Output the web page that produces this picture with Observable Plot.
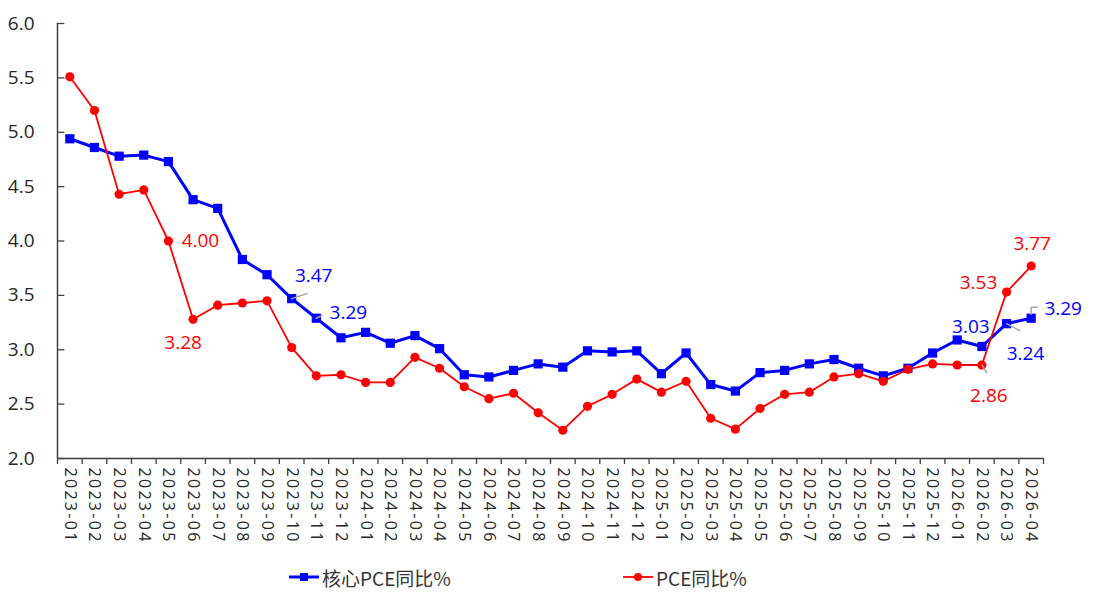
<!DOCTYPE html>
<html>
<head>
<meta charset="utf-8">
<script src="https://cdn.jsdelivr.net/npm/d3@7"></script>
<script src="https://cdn.jsdelivr.net/npm/@observablehq/plot@0.6"></script>
<style>
  html, body { margin: 0; padding: 0; background: #fff; }
  #wrap { position: relative; width: 1107px; height: 607px; overflow: hidden; font-family: "Open Sans", "Noto Sans CJK SC", sans-serif; }
  #legend { position: absolute; left: 0; top: 564px; width: 1107px; height: 26px; font-family: "Noto Sans CJK SC", "Open Sans", sans-serif; font-size: 19px; color: #333; }
  .item { position: absolute; top: 0; display: flex; align-items: center; height: 26px; }
  .item svg { margin-right: 3px; }
</style>
</head>
<body>
<div id="wrap">
  <div id="chart"></div>
  <div id="legend"></div>
</div>
<script>
// ---- data ----
const months = [
  "2023-01","2023-02","2023-03","2023-04","2023-05","2023-06","2023-07","2023-08","2023-09","2023-10","2023-11","2023-12",
  "2024-01","2024-02","2024-03","2024-04","2024-05","2024-06","2024-07","2024-08","2024-09","2024-10","2024-11","2024-12",
  "2025-01","2025-02","2025-03","2025-04","2025-05","2025-06","2025-07","2025-08","2025-09","2025-10","2025-11","2025-12",
  "2026-01","2026-02","2026-03","2026-04"
];
const corePCE = [
  4.94,4.86,4.78,4.79,4.73,4.38,4.30,3.83,3.69,3.47,3.29,3.11,
  3.16,3.06,3.13,3.01,2.77,2.75,2.81,2.87,2.84,2.99,2.98,2.99,
  2.78,2.97,2.68,2.62,2.79,2.81,2.87,2.91,2.83,2.76,2.83,2.97,
  3.09,3.03,3.24,3.29
];
const pce = [
  5.51,5.20,4.43,4.47,4.00,3.28,3.41,3.43,3.45,3.02,2.76,2.77,
  2.70,2.70,2.93,2.83,2.66,2.55,2.60,2.42,2.26,2.48,2.59,2.73,
  2.61,2.71,2.37,2.27,2.46,2.59,2.61,2.75,2.78,2.71,2.82,2.87,
  2.86,2.86,3.53,3.77
];
const yTicks = [2.0,2.5,3.0,3.5,4.0,4.5,5.0,5.5,6.0];
const seriesNames = ["核心PCE同比%", "PCE同比%"];
// annotated points: [series (0 core, 1 pce), month index]
const annotated = [[1,4],[1,5],[0,9],[0,10],[0,37],[0,38],[0,39],[1,37],[1,38],[1,39]];

// ---- styling / layout ----
const BLUE = "#0000FF", RED = "#FF0000", AXIS = "#404040", LEADER = "#A6A6A6";
const labelOffsets = { // pixel offsets of the label from its point
  "1-4": [32, 0], "1-5": [-10, 24], "0-9": [22, -23], "0-10": [32, -5],
  "0-37": [-11, -20], "0-38": [19, 30], "0-39": [32, -9],
  "1-37": [7, 31], "1-38": [-28, -9], "1-39": [1, -22]
};
const leaders = { // [length px, rotate deg]
  "0-9": [23, 72], "0-10": [9, 63], "0-38": [21, 118], "1-37": [13, 148]
};

const rows = months.map((m, i) => ({i, x: i + 0.5, month: m, core: corePCE[i], pce: pce[i]}));
const series = [corePCE, pce];
const annRows = annotated.map(([s, i]) => {
  const key = s + "-" + i;
  return {s, i, x: i + 0.5, y: series[s][i], text: series[s][i].toFixed(2),
          dx: labelOffsets[key][0], dy: labelOffsets[key][1], leader: leaders[key]};
});
const leaderRows = annRows.filter(d => d.leader);
const lineShape = { draw(ctx, l) { ctx.moveTo(0, 0); ctx.lineTo(0, -l); } };
const bracketShape = { draw(ctx) { ctx.moveTo(0, -4); ctx.lineTo(0, -11); ctx.lineTo(6, -11); } };

const chart = Plot.plot({
  width: 1107,
  height: 560,
  marginLeft: 57,
  marginRight: 64,
  marginTop: 23,
  marginBottom: 102,
  style: { fontFamily: "'Open Sans', sans-serif", background: "#fff", color: AXIS },
  x: { type: "linear", domain: [0, months.length] },
  y: { domain: [2, 6] },
  marks: [
    Plot.ruleX([0], { stroke: AXIS, strokeWidth: 1.5 }),
    Plot.ruleY([2], { stroke: AXIS, strokeWidth: 1.5 }),
    Plot.ruleY(yTicks, { x1: 0, x2: 0.3, stroke: AXIS, strokeWidth: 1.3 }),
    Plot.axisY({ ticks: yTicks, tickSize: 0, tickPadding: 23, tickFormat: d3.format(".1f"), fontSize: 19, label: null, fill: "#262626" }),
    Plot.axisX({ ticks: d3.range(months.length + 1), tickSize: 6, tickFormat: () => "", stroke: AXIS, strokeWidth: 1.3, label: null }),
    Plot.axisX({ ticks: rows.map(d => d.x), tickSize: 0, tickPadding: 9, tickRotate: 90, tickFormat: (v) => months[Math.floor(v)], fontSize: 16, label: null, fill: "#262626" }),
    Plot.line(rows, { x: "x", y: "core", stroke: BLUE, strokeWidth: 3 }),
    Plot.line(rows, { x: "x", y: "pce", stroke: RED, strokeWidth: 1.8 }),
    Plot.dot(rows, { x: "x", y: "core", symbol: "square", r: 5.2, fill: BLUE }),
    Plot.dot(rows, { x: "x", y: "pce", symbol: "circle", r: 4.6, fill: RED }),
    Plot.vector(leaderRows, { x: "x", y: "y", length: d => d.leader[0], rotate: d => d.leader[1], anchor: "start", shape: lineShape, stroke: LEADER, strokeWidth: 1.5 }),
    Plot.vector(annRows.filter(d => d.s === 0 && d.i === 39), { x: "x", y: "y", length: 10, anchor: "start", shape: bracketShape, stroke: LEADER, strokeWidth: 1.5 }),
    Plot.text(annRows, { x: "x", y: "y", text: "text", fill: d => d.s === 0 ? BLUE : RED, fontSize: 19, textAnchor: "middle" })
  ]
});
// per-label pixel offsets (applied per datum)
d3.select(chart).selectAll("g[aria-label='text'] text").each(function(_, k) {
  const d = annRows[k];
  const t = d3.select(this);
  const tr = t.attr("transform") || "";
  t.attr("transform", tr + ` translate(${d.dx},${d.dy})`);
});
d3.select(chart).selectAll("g[aria-label='x-axis tick label'] text").style("letter-spacing", "2.3px");
document.getElementById("chart").appendChild(chart);

// legend
const legend = d3.select("#legend");
const items = [
  { name: seriesNames[0], color: BLUE, symbol: "square", left: 289, sw: 3 },
  { name: seriesNames[1], color: RED, symbol: "circle", left: 623, sw: 1.8 }
];
items.forEach(it => {
  const div = legend.append("div").attr("class", "item").style("left", it.left + "px");
  const s = div.append("svg").attr("width", 30).attr("height", 14);
  s.append("line").attr("x1", 0).attr("x2", 30).attr("y1", 7).attr("y2", 7).attr("stroke", it.color).attr("stroke-width", it.sw);
  if (it.symbol === "square") s.append("rect").attr("x", 11).attr("y", 3).attr("width", 8).attr("height", 8).attr("fill", it.color);
  else s.append("circle").attr("cx", 15).attr("cy", 7).attr("r", 4).attr("fill", it.color);
  div.append("span").text(it.name);
});
</script>
</body>
</html>
